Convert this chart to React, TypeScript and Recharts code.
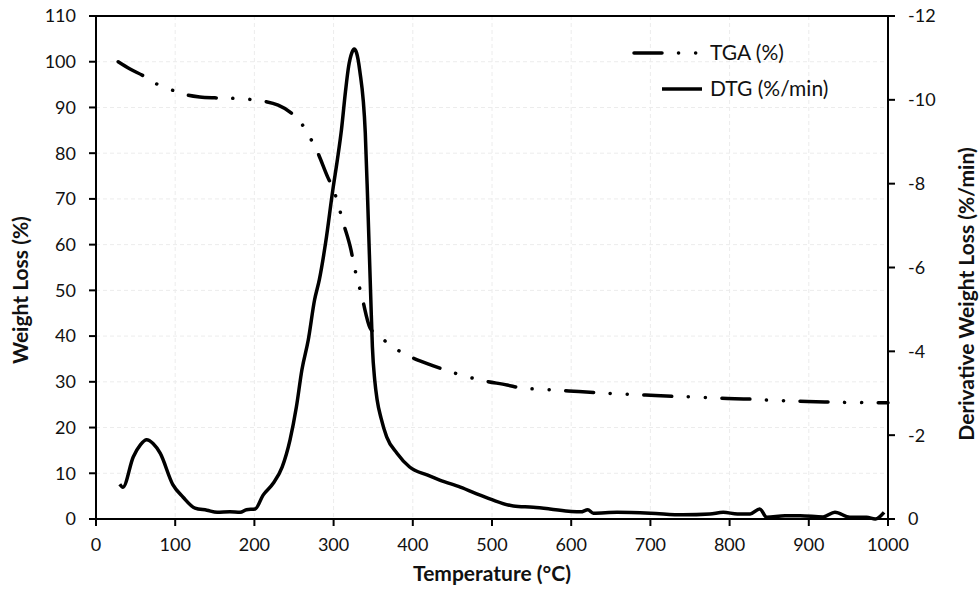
import React from "react";
import { ComposedChart, Line, XAxis, YAxis, CartesianGrid, ReferenceLine } from "recharts";

// TGA curve, weight remaining (%)
const tgaTemp = [28, 43, 60, 77, 96, 116, 131, 150, 171, 192, 211, 230, 245, 259, 270, 279, 293, 300, 307, 312, 322, 326, 331, 336, 346, 359, 375, 392, 426, 444, 465, 485, 519, 539, 559, 597, 635, 657, 694, 732, 753, 790, 828, 848, 885, 920, 1000];
const tgaWeight = [100, 98.4, 96.9, 95.1, 93.8, 92.7, 92.3, 92.1, 92.0, 91.8, 91.4, 90.5, 89.0, 86.6, 83.5, 80.5, 74.6, 72.0, 68.0, 64.9, 58.8, 55.3, 51.8, 48.4, 41.8, 39.8, 37.6, 35.9, 33.5, 32.4, 31.3, 30.4, 29.3, 28.6, 28.4, 28.0, 27.6, 27.4, 27.1, 26.8, 26.7, 26.4, 26.2, 26.0, 25.8, 25.6, 25.4];

// DTG curve, derivative weight loss (%/min)
const dtgTemp = [30, 34, 47, 56, 64, 72, 81, 97, 110, 125, 140, 153, 169, 182, 190, 201, 211, 224, 235, 245, 253, 260, 268, 276, 282, 290, 299, 305, 310, 315, 319, 323, 326, 329, 333, 340, 343, 347, 349, 352, 355, 360, 367, 380, 396, 418, 434, 460, 485, 500, 527, 552, 573, 600, 612, 621, 628, 658, 700, 741, 775, 792, 810, 826, 838, 847, 870, 889, 918, 933, 952, 973, 984, 995];
const dtgRate = [-0.83, -0.76, -1.48, -1.77, -1.89, -1.8, -1.57, -0.82, -0.52, -0.26, -0.21, -0.16, -0.17, -0.16, -0.22, -0.24, -0.57, -0.86, -1.24, -1.89, -2.67, -3.56, -4.27, -5.23, -5.71, -6.6, -7.85, -8.6, -9.3, -10.2, -10.8, -11.12, -11.21, -11.12, -10.7, -9.21, -7.61, -5.23, -4.1, -3.3, -2.84, -2.4, -1.96, -1.57, -1.24, -1.05, -0.93, -0.76, -0.57, -0.46, -0.31, -0.28, -0.24, -0.18, -0.17, -0.22, -0.14, -0.16, -0.14, -0.1, -0.12, -0.16, -0.12, -0.12, -0.24, -0.04, -0.08, -0.08, -0.05, -0.16, -0.04, -0.04, 0, -0.16];

const tempTicks = [0, 100, 200, 300, 400, 500, 600, 700, 800, 900, 1000];
const weightTicks = [0, 10, 20, 30, 40, 50, 60, 70, 80, 90, 100, 110];
const rateTicks = [0, -2, -4, -6, -8, -10, -12];

const tgaData = tgaTemp.map((t, i) => ({ temp: t, tga: tgaWeight[i] }));
const dtgData = dtgTemp.map((t, i) => ({ temp: t, dtg: dtgRate[i] }));

const FONT = "Lato, 'Open Sans', sans-serif";
const tickStyle = { fontSize: 18, fill: "#111", fontFamily: FONT };
const axisStroke = { stroke: "#000", strokeWidth: 2 };
const TGA_DASH = "28 16.5 0.1 17 0.1 16.5";

const titleStyle = { fontSize: 21, fontWeight: 700, fill: "#111", fontFamily: FONT };

export default function App() {
  return (
    <div style={{ position: "absolute", left: 0, top: 0, width: 979, height: 591, background: "#fff" }}>
      <ComposedChart width={979} height={591} margin={{ top: 16, right: 0, bottom: 0, left: 0 }}>
        <CartesianGrid yAxisId="left" stroke="#ececec" strokeDasharray="4 3" />
        <XAxis
          dataKey="temp"
          type="number"
          domain={[0, 1000]}
          ticks={tempTicks}
          allowDuplicatedCategory={false}
          height={72}
          tick={tickStyle}
          tickSize={7}
          tickMargin={12}
          axisLine={axisStroke}
          tickLine={axisStroke}
          label={{
            content: () => (
              <text x={492} y={581} textAnchor="middle" style={titleStyle}>
                Temperature (°C)
              </text>
            ),
          }}
        />
        <YAxis
          yAxisId="left"
          domain={[0, 110]}
          ticks={weightTicks}
          width={96}
          tick={tickStyle}
          tickSize={7}
          tickMargin={13}
          axisLine={axisStroke}
          tickLine={axisStroke}
          label={{
            content: () => (
              <text x={28} y={290} textAnchor="middle" transform="rotate(-90 28 290)" style={titleStyle}>
                Weight Loss (%)
              </text>
            ),
          }}
        />
        <YAxis
          yAxisId="right"
          orientation="right"
          domain={[-12, 0]}
          reversed
          ticks={rateTicks}
          width={91}
          tick={tickStyle}
          tickSize={7}
          tickMargin={13}
          axisLine={axisStroke}
          tickLine={axisStroke}
          label={{
            content: () => (
              <text x={974} y={294} textAnchor="middle" transform="rotate(-90 974 294)" style={titleStyle}>
                Derivative Weight Loss (%/min)
              </text>
            ),
          }}
        />
        <ReferenceLine yAxisId="left" y={110} stroke="#000" strokeWidth={2} />
        <Line
          yAxisId="left"
          data={tgaData}
          dataKey="tga"
          type="monotone"
          stroke="#000"
          strokeWidth={3.5}
          strokeDasharray={TGA_DASH}
          strokeLinecap="round"
          dot={false}
          isAnimationActive={false}
        />
        <Line
          yAxisId="right"
          data={dtgData}
          dataKey="dtg"
          type="monotone"
          stroke="#000"
          strokeWidth={3.5}
          dot={false}
          isAnimationActive={false}
        />
      </ComposedChart>
      <svg width={979} height={591} style={{ position: "absolute", left: 0, top: 0, pointerEvents: "none" }}>
        <line x1={634} y1={53} x2={700} y2={53} stroke="#000" strokeWidth={3.5} strokeDasharray={TGA_DASH} strokeLinecap="round" />
        <text x={710} y={60} style={{ fontSize: 21, fill: "#111", fontFamily: FONT }}>TGA (%)</text>
        <line x1={662} y1={89} x2={702} y2={89} stroke="#000" strokeWidth={3.5} />
        <text x={710} y={96} style={{ fontSize: 21, fill: "#111", fontFamily: FONT }}>DTG (%/min)</text>
      </svg>
    </div>
  );
}
